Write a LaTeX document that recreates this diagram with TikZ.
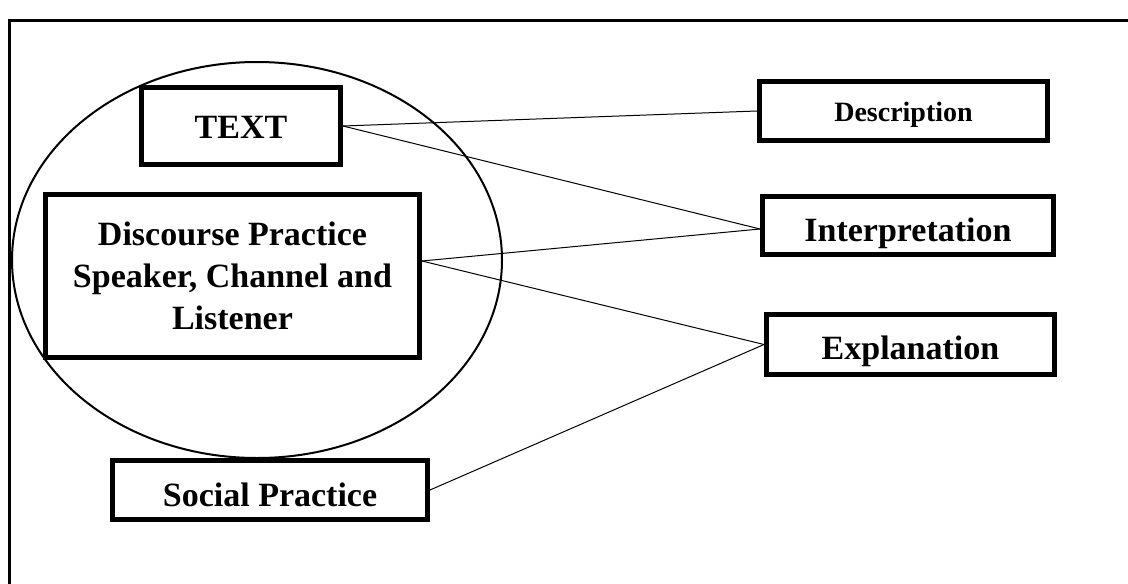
\documentclass[tikz,border=0pt]{standalone}
\usepackage{fontspec}
\setmainfont{Liberation Serif}
\begin{document}
\begin{tikzpicture}[x=1pt,y=-1pt,
  box/.style={draw,line width=5pt,fill=white,inner sep=0pt,align=center,
    font=\bfseries\fontsize{34}{42}\selectfont,text depth=0pt}]
\useasboundingbox (0,0) rectangle (1128,584);
\draw[line width=3pt] (1128,20)--(9,20)--(9,584);
\draw[line width=2pt] (257,260) ellipse [x radius=245,y radius=198];

\node[box,minimum width=199,minimum height=77,text height=25pt] (txt) at (241,126) {TEXT};
\node[box,minimum width=374,minimum height=163] (disc) at (232.5,276)
  {Discourse Practice\\Speaker, Channel and\\Listener};
\node[box,minimum width=315,minimum height=59,text height=32pt] (social) at (270,490) {Social Practice};

\node[box,minimum width=288,minimum height=59,text height=21pt,
  font=\bfseries\fontsize{28}{34}\selectfont] (desc) at (903.5,111) {Description};
\node[box,minimum width=291,minimum height=58,text height=32pt] (interp) at (908,225.5) {Interpretation};
\node[box,minimum width=288,minimum height=60,text height=30pt] (expl) at (910.5,344.5) {Explanation};

%\draw (txt.east)--(interp.west);
\draw[line width=1pt] (txt.east)--(desc.west);
\draw[line width=1pt] (txt.east)--([yshift=-3.5pt]interp.west);
\draw[line width=1pt] ([yshift=15pt]disc.east)--([yshift=-3.5pt]interp.west);
\draw[line width=1pt] ([yshift=15pt]disc.east)--(expl.west);
\draw[line width=1pt] (social.east)--(expl.west);
\end{tikzpicture}
\end{document}
